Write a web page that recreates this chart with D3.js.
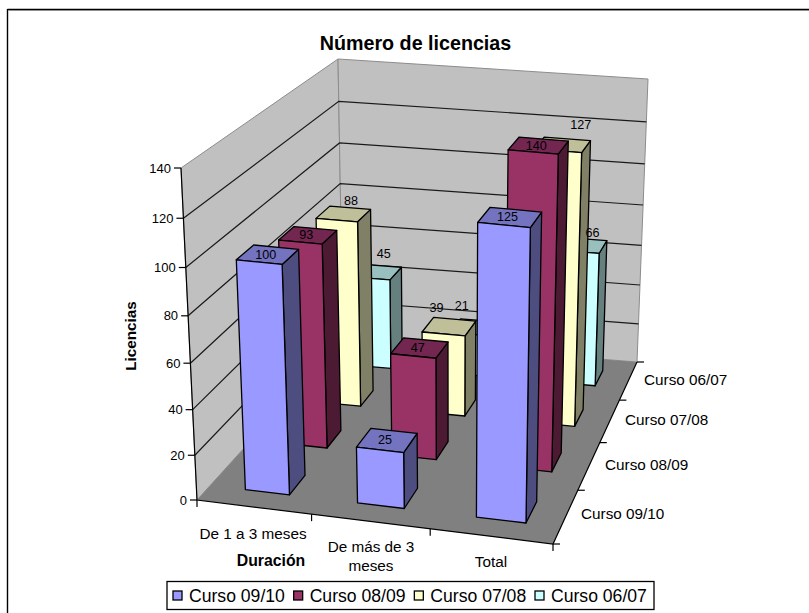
<!DOCTYPE html>
<html>
<head>
<meta charset="utf-8">
<script src="https://cdn.jsdelivr.net/npm/d3@7"></script>
<style>
  html, body { margin: 0; padding: 0; background: #fff; }
  svg { display: block; }
  text { font-family: "Liberation Sans", Arial, sans-serif; fill: #000; }
</style>
</head>
<body>
<svg width="809" height="613"></svg>
<script>
// data
const categories = ["De 1 a 3 meses", "De más de 3 meses", "Total"];
const seriesNames = ["Curso 09/10", "Curso 08/09", "Curso 07/08", "Curso 06/07"];
const curso0910 = [100, 25, 125];
const curso0809 = [93, 47, 140];
const curso0708 = [88, 39, 127];
const curso0607 = [45, 21, 66];
const seriesValues = [curso0910, curso0809, curso0708, curso0607];
const yTicks = [0, 20, 40, 60, 80, 100, 120, 140];

const seriesFront = ["#9999ff", "#993366", "#ffffcc", "#ccffff"];
const seriesTop = ["#7373bf", "#732650", "#bfbf99", "#99bfbf"];
const seriesSide = ["#4d4d80", "#4d1a33", "#808066", "#668080"];

// excel puts the labels of the back rows off centre, nudge per [series][category]
const labelDx = [[1, 1, 1], [1, 1, 1], [10, -10, 21], [10, -11, 14]];
const labelDy = [[0, 0, 0], [0, 0, 0], [-13, -19, -20], [-18, -22, -13]];

const svg = d3.select("svg");

// the box corners on screen: floor then ceiling, [front-left, front-right, back-right, back-left]
const floorQuad = [[197, 500], [553, 544], [637, 362], [343, 339]];
const topQuad = [[181, 168], [560, 205], [648, 79], [338, 59]];

// unit square -> quad homography
function homography(q) {
  const [[x0, y0], [x1, y1], [x2, y2], [x3, y3]] = q;
  const dx1 = x1 - x2, dx2 = x3 - x2, sx = x0 - x1 + x2 - x3;
  const dy1 = y1 - y2, dy2 = y3 - y2, sy = y0 - y1 + y2 - y3;
  const det = dx1 * dy2 - dx2 * dy1;
  const g = (sx * dy2 - dx2 * sy) / det;
  const h = (dx1 * sy - sx * dy1) / det;
  return (u, v) => {
    const w = g * u + h * v + 1;
    return [
      (x1 - x0 + g * x1) * u / w + (x3 - x0 + h * x3) * v / w + x0 / w,
      (y1 - y0 + g * y1) * u / w + (y3 - y0 + h * y3) * v / w + y0 / w
    ];
  };
}
const onFloor = homography(floorQuad);
const onTop = homography(topQuad);

const xScale = d3.scaleLinear().domain([0, categories.length]).range([0, 1]);
const zScale = d3.scaleLinear().domain([0, seriesNames.length]).range([0, 1]);
const yScale = d3.scaleLinear().domain([0, 140]).range([0, 1]);

// the top of the box is nearer the camera, so upper gridlines are spaced wider
const yPersp = 1.07;

function project(x, z, value) {
  const a = onFloor(xScale(x), zScale(z));
  const b = onTop(xScale(x), zScale(z));
  let t = yScale(value);
  t = t / (t + yPersp * (1 - t));
  return [a[0] + (b[0] - a[0]) * t, a[1] + (b[1] - a[1]) * t];
}
const line = d3.line();
const closed = pts => line(pts) + "Z";

// chart frame, only top and left are on the picture
const frame = svg.append("g").attr("fill", "none");
frame.append("path").attr("d", "M9,10.5H809").attr("stroke", "#c0c0c0");
frame.append("path").attr("d", "M7.5,9.5H809").attr("stroke", "#000").attr("stroke-width", 1.4);
frame.append("path").attr("d", "M7.5,9V613").attr("stroke", "#000").attr("stroke-width", 1.4);

svg.append("text").attr("x", 415.5).attr("y", 50).attr("text-anchor", "middle")
  .style("font-size", "19.7px").style("font-weight", "bold").text("Número de licencias");

// walls and floor
const nx = categories.length, nz = seriesNames.length;
const walls = svg.append("g");
walls.append("path").attr("d", closed([project(0, 0, 0), project(0, nz, 0), project(0, nz, 140), project(0, 0, 140)]))
  .attr("fill", "#c0c0c0").attr("stroke", "#8c8c8c");
walls.append("path").attr("d", closed([project(0, nz, 0), project(nx, nz, 0), project(nx, nz, 140), project(0, nz, 140)]))
  .attr("fill", "#c0c0c0").attr("stroke", "#8c8c8c");
walls.append("path").attr("d", closed([project(0, 0, 0), project(nx, 0, 0), project(nx, nz, 0), project(0, nz, 0)]))
  .attr("fill", "#808080");

// gridlines
svg.append("g").selectAll("path").data(yTicks.filter(d => d > 0 && d < 140)).join("path")
  .attr("d", d => line([project(0, 0, d), project(0, nz, d), project(nx, nz, d)]))
  .attr("fill", "none").attr("stroke", "#1a1a1a").attr("stroke-width", 1.2);

// axes
const axes = svg.append("g").attr("stroke", "#000").attr("fill", "none").attr("stroke-width", 1.2);
axes.append("path").attr("d", line([project(0, 0, 140), project(0, 0, 0), project(nx, 0, 0), project(nx, nz, 0)]));
yTicks.forEach(d => {
  const p = project(0, 0, d);
  axes.append("path").attr("d", line([[p[0] - 7, p[1]], [p[0], p[1]]]));
  svg.append("text").attr("x", p[0] - 10).attr("y", p[1] + 4.5).attr("text-anchor", "end")
    .style("font-size", "13px").text(d);
});
const barShift = 0.025;
d3.range(nx + 1).forEach(i => {
  const p = project(i + (i > 0 && i < nx ? barShift : 0), 0, 0);
  axes.append("path").attr("d", line([p, [p[0], p[1] + 7]]));
});
d3.range(nz + 1).forEach(j => {
  const p = project(nx, j, 0);
  axes.append("path").attr("d", line([p, [p[0] + 7, p[1]]]));
});

// bars, back row first, left to right
const barHalf = 0.2;
const bars = svg.append("g").attr("stroke", "#000").attr("stroke-width", 1.3).attr("stroke-linejoin", "round");
d3.range(nz - 1, -1, -1).forEach(j => {
  seriesValues[j].forEach((v, i) => {
    const x0 = i + barShift + 0.5 - barHalf, x1 = i + barShift + 0.5 + barHalf;
    const z0 = j + 0.5 - barHalf, z1 = j + 0.5 + barHalf;
    bars.append("path").attr("fill", seriesSide[j])
      .attr("d", closed([project(x1, z0, 0), project(x1, z1, 0), project(x1, z1, v), project(x1, z0, v)]));
    bars.append("path").attr("fill", seriesTop[j])
      .attr("d", closed([project(x0, z0, v), project(x1, z0, v), project(x1, z1, v), project(x0, z1, v)]));
    bars.append("path").attr("fill", seriesFront[j])
      .attr("d", closed([project(x0, z0, 0), project(x1, z0, 0), project(x1, z0, v), project(x0, z0, v)]));
  });
});

// value labels go on top of everything
d3.range(nz - 1, -1, -1).forEach(j => {
  seriesValues[j].forEach((v, i) => {
    const p = project(i + 0.5, j + 0.5, v);
    svg.append("text").attr("x", p[0] + labelDx[j][i]).attr("y", p[1] + 4.5 + labelDy[j][i]).attr("text-anchor", "middle")
      .style("font-size", "12.6px").text(v);
  });
});

// category labels
const catLabels = [["De 1 a 3 meses"], ["De más de 3", "meses"], ["Total"]];
const catAnchor = [[253, 539], [371, 552], [491, 567]];
catLabels.forEach((lines, i) => {
  lines.forEach((t, k) => {
    svg.append("text").attr("x", catAnchor[i][0]).attr("y", catAnchor[i][1] + k * 19)
      .attr("text-anchor", "middle").style("font-size", "15.3px").text(t);
  });
});

// series labels on the depth axis
const depthAnchor = [[581, 519], [605, 470], [625, 425], [644, 385]];
seriesNames.forEach((t, j) => {
  svg.append("text").attr("x", depthAnchor[j][0]).attr("y", depthAnchor[j][1])
    .style("font-size", "15.3px").text(t);
});

// axis titles
svg.append("text").attr("x", 271).attr("y", 566).attr("text-anchor", "middle")
  .style("font-size", "15.8px").style("font-weight", "bold").text("Duración");
svg.append("text").attr("transform", "translate(136,336) rotate(-90)").attr("text-anchor", "middle")
  .style("font-size", "15.3px").style("font-weight", "bold").text("Licencias");

// legend
const legend = svg.append("g");
legend.append("rect").attr("x", 167).attr("y", 581.5).attr("width", 487).attr("height", 28)
  .attr("fill", "#fff").attr("stroke", "#000").attr("stroke-width", 1.3);
const legendX = d3.scalePoint().domain(seriesNames).range([173, 535]);
seriesNames.forEach((t, j) => {
  legend.append("rect").attr("x", legendX(t)).attr("y", 591).attr("width", 9).attr("height", 9)
    .attr("fill", seriesFront[j]).attr("stroke", "#000").attr("stroke-width", 1.3);
  legend.append("text").attr("x", legendX(t) + 16).attr("y", 601.5).style("font-size", "17.6px").text(t);
});
</script>
</body>
</html>
